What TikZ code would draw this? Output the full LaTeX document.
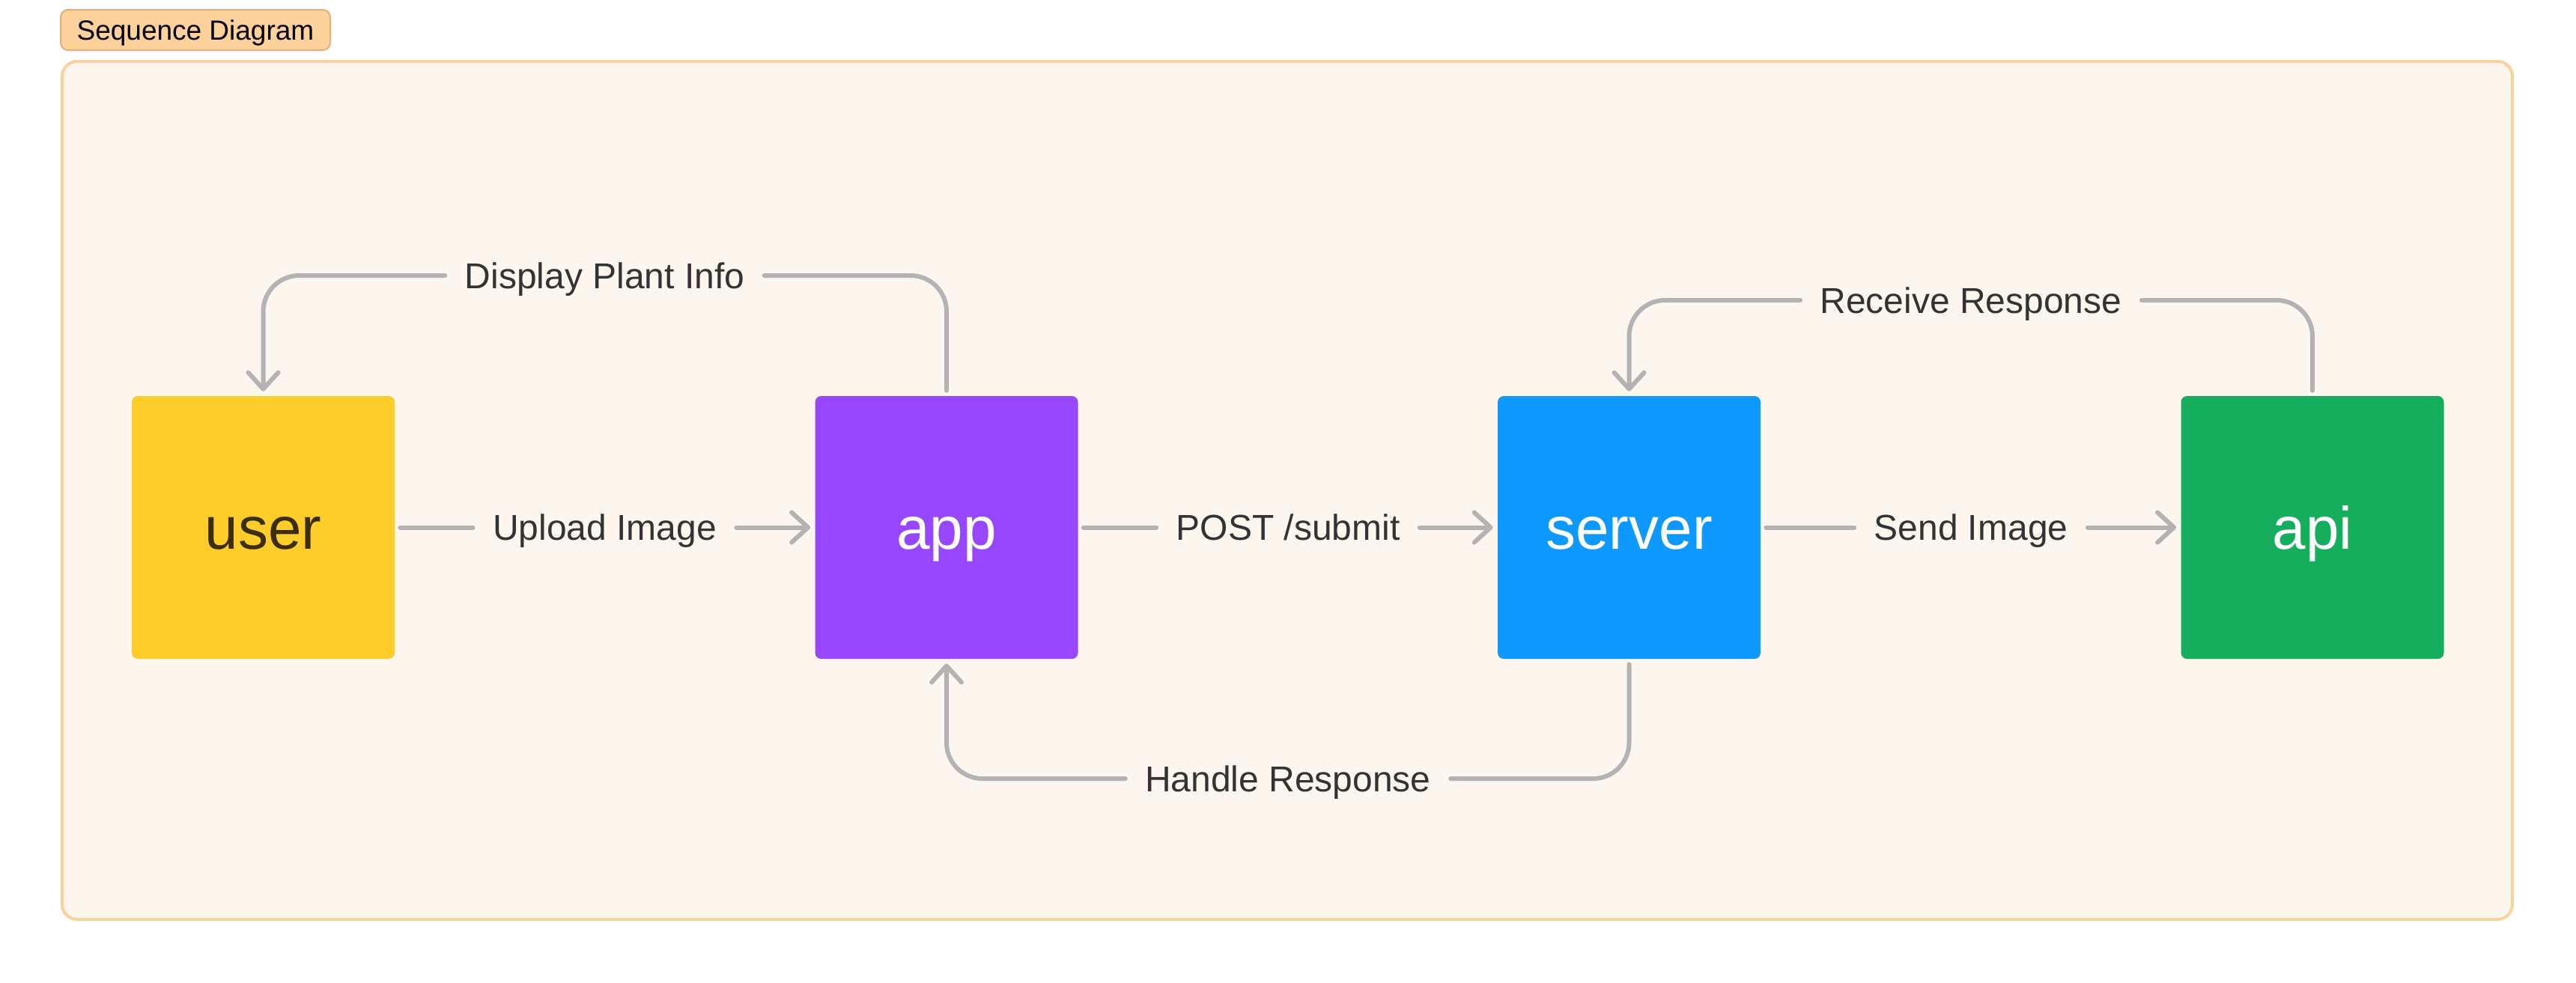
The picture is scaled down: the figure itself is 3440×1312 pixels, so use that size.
\documentclass[tikz,border=0pt]{standalone}
\usepackage{fontspec}
\setmainfont{Liberation Sans}
\usetikzlibrary{arrows.meta}
\definecolor{framefill}{HTML}{FDF6EF}
\definecolor{frameline}{HTML}{FBD29E}
\definecolor{tagfill}{HTML}{FCD19C}
\definecolor{tagline}{HTML}{DDB07C}
\definecolor{conncol}{HTML}{B3B3B3}
\definecolor{labcol}{HTML}{333333}
\definecolor{cyellow}{HTML}{FFCD29}
\definecolor{cpurple}{HTML}{9747FF}
\definecolor{cblue}{HTML}{0D99FF}
\definecolor{cgreen}{HTML}{14AE5C}
\definecolor{usertext}{HTML}{3B2E0A}
\begin{document}
\begin{tikzpicture}[x=0.5pt,y=-0.5pt,
 actor/.style={minimum width=175.5pt, minimum height=175.5pt, rounded corners=4pt, inner sep=0pt,
   font=\fontsize{40}{48}\selectfont, text height=30pt, text depth=1.5pt, text=white},
 msg/.style={font=\fontsize{24}{29}\selectfont, text=labcol, text height=17.2pt, text depth=0pt,
   inner xsep=13pt, inner ysep=0pt},
 conn/.style={draw=conncol, line width=3pt, line cap=round, line join=round, rounded corners=24pt},
 tip/.style={-{Straight Barb[length=11pt,width=20pt,round]}},
]
\useasboundingbox (0,0) rectangle (3440,1312);
\fill[white] (0,0) rectangle (3440,1312);
\draw[fill=framefill, draw=frameline, line width=2pt, rounded corners=10pt] (83,82) rectangle (3355,1228);

\node[fill=tagfill, draw=tagline, line width=1pt, rounded corners=5pt, minimum width=180pt,
  minimum height=27pt, inner sep=0pt, font=\fontsize{18.5}{22}\selectfont, text height=13.25pt,
  text depth=0pt] (tag) at (261,40) {Sequence Diagram};

\node[actor, fill=cyellow, text=usertext] (user) at (351.5,704.5) {user};
\node[actor, fill=cpurple] (app) at (1264,704.5) {app};
\node[actor, fill=cblue] (server) at (2175.5,704.5) {server};
\node[actor, fill=cgreen] (api) at (3088,704.5) {api};

\node[msg] (l1) at (807.5,704.5) {Upload Image};
\node[msg] (l2) at (1720,704.5) {POST /submit};
\node[msg] (l3) at (2632,704.5) {Send Image};
\node[msg] (l4) at (807.5,368) {Display Plant Info};
\node[msg] (l5) at (1720,1040) {Handle Response};
\node[msg] (l6) at (2632,401) {Receive Response};

\draw[conn] ([xshift=3.5pt]user.east) -- (l1.west);
\draw[conn, tip] (l1.east) -- ([xshift=-3pt]app.west);
\draw[conn] ([xshift=3.5pt]app.east) -- (l2.west);
\draw[conn, tip] (l2.east) -- ([xshift=-3pt]server.west);
\draw[conn] ([xshift=3.5pt]server.east) -- (l3.west);
\draw[conn, tip] (l3.east) -- ([xshift=-3pt]api.west);

\draw[conn] ([yshift=3.5pt]app.north) |- (l4.east);
\draw[conn, tip] (l4.west) -| ([yshift=3pt]user.north);
\draw[conn] ([yshift=-3.5pt]server.south) |- (l5.east);
\draw[conn, tip] (l5.west) -| ([yshift=-3pt]app.south);
\draw[conn] ([yshift=3.5pt]api.north) |- (l6.east);
\draw[conn, tip] (l6.west) -| ([yshift=3pt]server.north);
\end{tikzpicture}
\end{document}
